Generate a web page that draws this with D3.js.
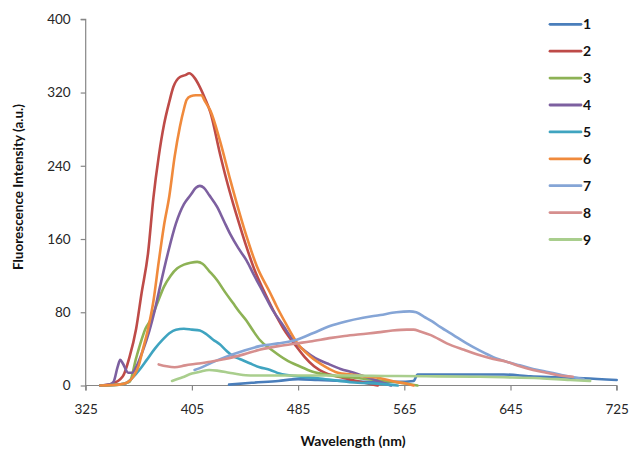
<!DOCTYPE html>
<html><head><meta charset="utf-8">
<script src="https://cdn.jsdelivr.net/npm/d3@7"></script>
<style>
body{margin:0;background:#fff;}
svg{display:block;font-family:Lato,"Open Sans",sans-serif;}
</style></head>
<body><svg id="c" width="633" height="449"></svg>
<script>
const seriesNames = ["1","2","3","4","5","6","7","8","9"];
const seriesColors = ["#4A7EBB","#BE4B48","#8DB255","#7D60A0","#3FA4C0","#F08A3C","#85A5D6","#D68F8E","#A9CE8D"];
const xTicks = [325,405,485,565,645,725];
const yTicks = [0,80,160,240,320,400];

const s1 = [[433,1],[450,3],[470,5],[485,7],[500,6],[520,5],[540,4],[560,4],[572,5],[575,12],[600,12],[640,12],[660,10],[680,9],[700,8],[725,6]];
const s2 = [[336,0],[345,2],[353,10],[358,31],[363,62],[367,100],[372,145],[376,205],[380,250],[384,285],[388,310],[391,326],[396,337],[400,339],[403,341],[407,336],[411,326],[415,313],[419,298],[426,254],[431,225],[436,199],[441,175],[446,152],[452,127],[459,104],[466,83],[474,62],[484,42],[490,31],[497,21],[505,14],[514,10],[526,6],[535,3],[545,0]];
const s3 = [[336,0],[350,1],[358,4],[363,30],[366,45],[370,62],[374,72],[379,90],[384,108],[389,120],[394,128],[399,132],[404,134],[409,135],[413,133],[418,125],[424,115],[430,102],[436,90],[441,80],[446,71],[451,60],[456,50],[466,38],[476,28],[486,21],[496,15],[510,11],[531,8],[550,5],[567,2],[575,0]];
const s4 = [[336,0],[343,1],[346,4],[349,20],[351,28],[353,24],[357,14],[360,14],[363,20],[368,38],[373,60],[377,82],[381,108],[387,145],[393,177],[399,198],[404,208],[408,216],[411,218],[414,216],[418,208],[424,195],[429,180],[434,165],[440,150],[446,137],[452,120],[459,101],[466,82],[474,65],[481,50],[490,38],[498,30],[507,24],[517,18],[527,14],[535,10],[545,5],[555,0]];
const s5 = [[336,0],[350,1],[356,3],[360,8],[366,18],[371,28],[377,40],[383,50],[388,57],[393,61],[399,62],[405,61],[411,60],[416,56],[421,50],[426,45],[431,38],[436,32],[441,29],[449,24],[456,20],[464,17],[471,13],[485,10],[500,8],[516,5],[530,3],[545,2],[560,0]];
const s6 = [[336,0],[350,1],[356,3],[361,10],[365,22],[368,39],[372,62],[376,92],[380,135],[384,175],[388,207],[392,250],[396,283],[399,302],[401,312],[404,316],[408,317],[412,317],[415,310],[419,300],[426,268],[434,224],[444,173],[454,130],[464,101],[469,86],[476,67],[484,47],[494,32],[505,21],[515,14],[525,12],[535,10],[547,8],[558,4],[567,2],[572,0]];
const s7 = [[407,17],[411,19],[420,25],[430,31],[444,38],[456,43],[470,46],[484,50],[496,57],[509,65],[521,70],[534,74],[547,77],[559,80],[569,81],[574,80],[580,75],[586,70],[592,64],[602,55],[612,46],[622,38],[632,31],[642,26],[652,22],[662,18],[672,15],[682,12],[692,9],[700,7]];
const s8 = [[380,23],[386,21],[392,20],[400,22],[410,24],[419,26],[430,29],[444,34],[456,39],[470,43],[484,46],[494,48],[510,52],[520,54],[532,56],[545,58],[556,60],[567,61],[572,61],[577,59],[585,55],[597,46],[610,39],[622,33],[632,29],[642,26],[652,21],[662,17],[672,14],[680,11.5],[692,9.6]];
const s9 = [[390,5],[398,9],[405,13],[411,15],[418,17],[425,16],[433,14],[441,12],[449,11],[460,11],[480,11],[500,11],[520,11],[540,10.5],[560,10.4],[590,10],[617,9.6],[640,9],[667,8],[690,6],[705,5]];
const allSeries = [s1,s2,s3,s4,s5,s6,s7,s8,s9];

const svg = d3.select("#c");
const x = d3.scaleLinear().domain([325,725]).range([85.7,616.7]);
const y = d3.scaleLinear().domain([0,400]).range([385.5,19.3]);
const axisColor = "#868686";

// axes
const gx = svg.append("g").attr("transform",`translate(0,${y(0)})`)
  .call(d3.axisBottom(x).tickValues(xTicks).tickSize(5).tickPadding(14).tickFormat(d3.format("d")));
const gy = svg.append("g").attr("transform",`translate(${x(325)},0)`)
  .call(d3.axisLeft(y).tickValues(yTicks).tickSize(5).tickPadding(10).tickFormat(d3.format("d")));
[gx,gy].forEach(g=>{
  g.select(".domain").attr("stroke",axisColor).attr("stroke-width",1.2);
  g.selectAll(".tick line").attr("stroke",axisColor).attr("stroke-width",1.2);
  g.selectAll(".tick text").attr("fill","#262626").style("font-size","13.5px").style("font-family","Lato,'Open Sans',sans-serif");
});
gy.select(".domain").attr("d",`M-5,${y(400)}H0V${y(0)}`);
gx.select(".domain").attr("d",`M${x(325)},5V0H${x(725)}V5`);

// lines
const line = d3.line().x(d=>x(d[0])).y(d=>y(d[1])).curve(d3.curveMonotoneX);
svg.append("g").selectAll("path").data(allSeries).join("path")
  .attr("d",line).attr("fill","none")
  .attr("stroke",(d,i)=>seriesColors[i]).attr("stroke-width",2.6)
  .attr("stroke-linejoin","round").attr("stroke-linecap","round");

// legend
const leg = svg.append("g");
seriesNames.forEach((n,i)=>{
  const ly = 24.3 + i*26.9;
  leg.append("line").attr("x1",550).attr("x2",581).attr("y1",ly).attr("y2",ly)
    .attr("stroke",seriesColors[i]).attr("stroke-width",2.8).attr("stroke-linecap","round");
  leg.append("text").attr("x",583).attr("y",ly+5).text(n)
    .attr("font-weight","bold").attr("font-size","14px").attr("fill","#111");
});

// titles
svg.append("text").attr("x",353).attr("y",446).attr("text-anchor","middle")
  .attr("font-weight","bold").attr("font-size","14px").attr("fill","#111").text("Wavelength (nm)");
svg.append("text").attr("transform","translate(23,187) rotate(-90)").attr("text-anchor","middle")
  .attr("font-weight","bold").attr("font-size","13.5px").attr("fill","#111").text("Fluorescence Intensity (a.u.)");
</script></body></html>
